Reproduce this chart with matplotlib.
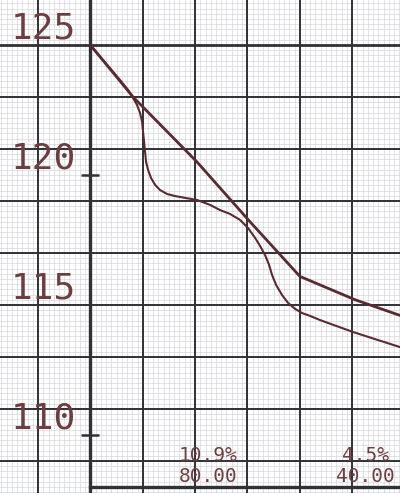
import matplotlib.pyplot as plt
import numpy as np

# straight trace (upper)
x_up = [106.7, 95.8, 79.5, 66.0, 53.3, 39.2, 27.8]
y_up = [125.0, 123.0, 120.5, 118.2, 116.1, 115.2, 114.6]

# curved trace (lower)
x_lo = [106.7, 99.11, 97.07, 95.80, 94.78, 94.01, 93.50, 93.25, 92.99, 92.74, 92.48,
        91.97, 91.21, 90.19, 88.92, 87.13, 85.10, 82.55, 79.49, 76.18, 73.63, 71.08,
        68.53, 66.50, 64.71, 63.44, 62.17, 61.15, 60.38, 59.36, 57.83, 56.31, 54.52,
        52.74, 50.70, 48.15, 39.74, 27.77]
y_lo = [125.0, 123.65, 123.27, 122.96, 122.69, 122.38, 122.04, 121.65, 121.27, 120.88, 120.5,
        120.19, 119.88, 119.62, 119.42, 119.27, 119.19, 119.12, 119.04, 118.85, 118.65, 118.5,
        118.27, 117.96, 117.58, 117.27, 116.92, 116.54, 116.15, 115.77, 115.38, 115.08, 114.85,
        114.69, 114.58, 114.42, 113.96, 113.38]

y_labels = [125, 120, 115, 110]
x_ticks = [80, 40]
x_tick_text = ["80.00", "40.00"]
x_pct = ["10.9%", "4.5%"]

ink = '#5a2a30'
txt = '#6e3d40'
gridc = '#303036'

fig = plt.figure(figsize=(4, 4.93), dpi=100)
ax = fig.add_axes([0, 0, 1, 1])
ax.set_facecolor('#e2e3e8')
ax.set_xlim(129.7, 27.8)
ax.set_ylim(107.77, 126.73)
ax.axis('off')
ax.patch.set_visible(True)

sq = 40 / 3
# fine paper mesh
for v in np.arange(40 - 3 * sq, 130, sq / 10):
    ax.axvline(v, color='#d2d3d9', lw=0.45, zorder=1)
for v in np.arange(107, 127, 0.2):
    ax.axhline(v, color='#d2d3d9', lw=0.45, zorder=1)

# main grid
for k in range(-1, 7):
    v = 40 + k * sq
    lw = 2.4 if k == 5 else 1.4
    ax.axvline(v, color=gridc, lw=lw, zorder=2)
for v in range(109, 125, 2):
    ax.axhline(v, color=gridc, lw=1.4, zorder=2)
ax.axhline(125, color=gridc, lw=2.0, zorder=2)
ax.plot([40 + 5 * sq, 20], [108, 108], color=gridc, lw=2.4, zorder=2)

# small ticks on the axis
ax.plot([40 + 5 * sq] * 2, [120, 110], ls='none', marker='_', ms=13, mew=1.8, color=gridc, zorder=3)

ax.plot(x_up, y_up, color=ink, lw=2.0, solid_joinstyle='round', zorder=4)
ax.plot(x_lo, y_lo, color=ink, lw=1.5, solid_joinstyle='round', zorder=4)

for v in y_labels:
    ax.text(118.7, v + 0.62, str(v), fontsize=26, family='DejaVu Sans Mono',
            color=txt, ha='center', va='center', zorder=5)

for v, t, p in zip(x_ticks, x_tick_text, x_pct):
    ax.text(v - 3.4, 109.23, p, fontsize=14, family='DejaVu Sans Mono',
            color=txt, ha='center', va='center', zorder=5)
    ax.text(v - 3.4, 108.42, t, fontsize=14, family='DejaVu Sans Mono',
            color=txt, ha='center', va='center', zorder=5)

fig.savefig('out.png', dpi=100)
